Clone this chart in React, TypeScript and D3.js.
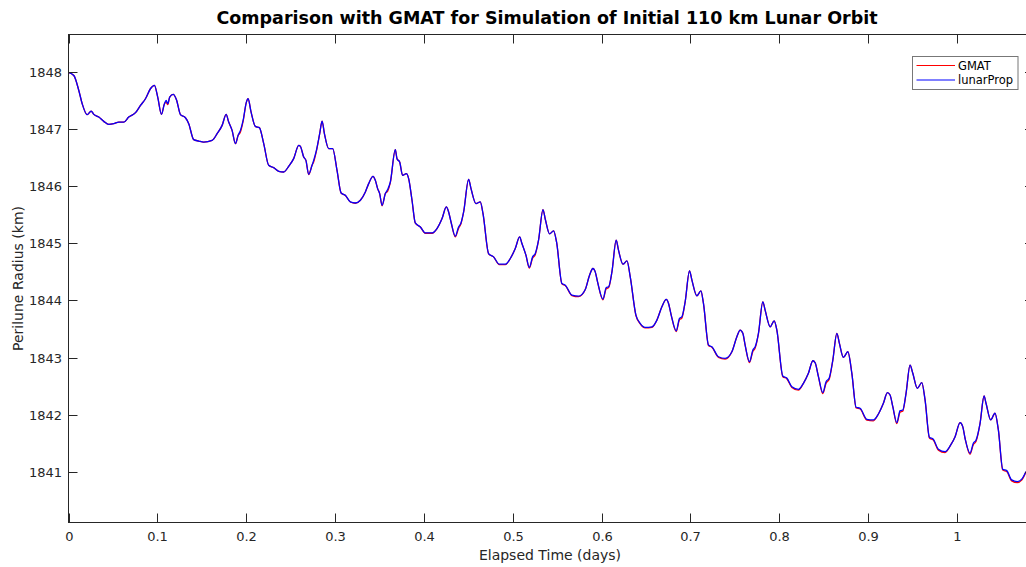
import React from "react";
import * as d3 from "d3";

const elapsedDays: number[] = [
  0, 0.006, 0.0116, 0.0154, 0.021, 0.0255, 0.0285, 0.0341, 0.0397, 0.0453,
  0.051, 0.0566, 0.0622, 0.0678, 0.0754, 0.081, 0.0866, 0.0922, 0.0967, 0.1004,
  0.1046, 0.108, 0.1099, 0.1117, 0.1139, 0.1178, 0.1215, 0.126, 0.1316, 0.1353,
  0.1409, 0.1466, 0.1522, 0.1616, 0.1673, 0.1729, 0.1774, 0.1803, 0.1841, 0.1879,
  0.1909, 0.1935, 0.1965, 0.2002, 0.2021, 0.2055, 0.2103, 0.2148, 0.2197, 0.2253,
  0.2309, 0.2366, 0.2422, 0.2478, 0.2534, 0.2591, 0.261, 0.2647, 0.2672, 0.2703,
  0.2741, 0.2759, 0.279, 0.2827, 0.2854, 0.288, 0.2928, 0.2973, 0.3022, 0.3068,
  0.3116, 0.3172, 0.3228, 0.3285, 0.3341, 0.3378, 0.3427, 0.3453, 0.3479, 0.3502,
  0.3529, 0.3566, 0.3592, 0.3622, 0.3678, 0.3697, 0.3727, 0.376, 0.3802, 0.3828,
  0.3866, 0.3903, 0.396, 0.4016, 0.4091, 0.4147, 0.4204, 0.4252, 0.4278, 0.4305,
  0.4353, 0.439, 0.4417, 0.4447, 0.4503, 0.453, 0.4586, 0.4634, 0.4665, 0.4728,
  0.4784, 0.4848, 0.4916, 0.4972, 0.5028, 0.5077, 0.5103, 0.5148, 0.5186, 0.5223,
  0.5253, 0.529, 0.534, 0.5366, 0.5414, 0.5459, 0.5493, 0.5553, 0.5591, 0.5666,
  0.574, 0.5816, 0.5864, 0.5902, 0.5928, 0.5954, 0.6015, 0.6052, 0.6078, 0.6116,
  0.6164, 0.619, 0.624, 0.6285, 0.6322, 0.6386, 0.6434, 0.649, 0.6566, 0.6622,
  0.6678, 0.6727, 0.6753, 0.6783, 0.6839, 0.6876, 0.6903, 0.694, 0.6989, 0.7016,
  0.7072, 0.7117, 0.7146, 0.7203, 0.7241, 0.7315, 0.739, 0.7466, 0.7522, 0.7559,
  0.7589, 0.7615, 0.7664, 0.7702, 0.7728, 0.7765, 0.7814, 0.784, 0.7897, 0.7942,
  0.7972, 0.8039, 0.8084, 0.8141, 0.8215, 0.8271, 0.8327, 0.8377, 0.8403, 0.844,
  0.8489, 0.8526, 0.856, 0.8602, 0.8647, 0.8676, 0.8721, 0.8771, 0.8816, 0.8864,
  0.8909, 0.8984, 0.9058, 0.9115, 0.9171, 0.9216, 0.9246, 0.9277, 0.9322, 0.9359,
  0.9389, 0.9426, 0.9471, 0.9502, 0.9553, 0.9603, 0.964, 0.9689, 0.9733, 0.979,
  0.9865, 0.9929, 0.9978, 1.0034, 1.0064, 1.009, 1.0146, 1.0183, 1.0214, 1.0259,
  1.0304, 1.0326, 1.0379, 1.0427, 1.0465, 1.0514, 1.0559, 1.0615, 1.0678, 1.0728,
  1.0776,
];

const lunarPropKm: number[] = [
  1847.99, 1847.935, 1847.673, 1847.441, 1847.249, 1847.312, 1847.254, 1847.207, 1847.132, 1847.079,
  1847.092, 1847.12, 1847.12, 1847.207, 1847.284, 1847.411, 1847.528, 1847.703, 1847.761, 1847.556,
  1847.254, 1847.441, 1847.499, 1847.441, 1847.556, 1847.603, 1847.511, 1847.249, 1847.196, 1847.092,
  1846.812, 1846.788, 1846.77, 1846.8, 1846.917, 1847.062, 1847.254, 1847.12, 1846.975, 1846.742,
  1846.887, 1846.975, 1847.149, 1847.469, 1847.528, 1847.294, 1847.044, 1847.022, 1846.742, 1846.363,
  1846.323, 1846.258, 1846.246, 1846.346, 1846.48, 1846.712, 1846.695, 1846.508, 1846.45, 1846.206,
  1846.363, 1846.45, 1846.625, 1846.917, 1847.137, 1846.917, 1846.655, 1846.655, 1846.276, 1845.879,
  1845.839, 1845.722, 1845.704, 1845.752, 1845.897, 1846.043, 1846.171, 1846.101, 1845.956, 1845.869,
  1845.664, 1845.869, 1845.939, 1846.071, 1846.637, 1846.48, 1846.421, 1846.188, 1846.218, 1846.131,
  1845.752, 1845.355, 1845.285, 1845.18, 1845.18, 1845.257, 1845.432, 1845.635, 1845.547, 1845.372,
  1845.123, 1845.285, 1845.355, 1845.547, 1846.118, 1845.956, 1845.694, 1845.722, 1845.519, 1844.82,
  1844.761, 1844.633, 1844.633, 1844.733, 1844.908, 1845.11, 1844.995, 1844.791, 1844.576, 1844.761,
  1844.82, 1845.053, 1845.589, 1845.42, 1845.163, 1845.215, 1845.018, 1844.296, 1844.267, 1844.092,
  1844.074, 1844.191, 1844.441, 1844.558, 1844.499, 1844.324, 1844.022, 1844.226, 1844.237, 1844.499,
  1845.053, 1844.878, 1844.633, 1844.691, 1844.412, 1843.743, 1843.598, 1843.528, 1843.538, 1843.655,
  1843.888, 1844.017, 1843.947, 1843.743, 1843.468, 1843.685, 1843.713, 1843.975, 1844.516, 1844.354,
  1844.08, 1844.167, 1843.947, 1843.218, 1843.189, 1843.014, 1842.986, 1843.101, 1843.363, 1843.48,
  1843.423, 1843.218, 1842.927, 1843.131, 1843.189, 1843.423, 1843.975, 1843.83, 1843.538, 1843.643,
  1843.48, 1842.677, 1842.642, 1842.49, 1842.444, 1842.549, 1842.724, 1842.944, 1842.909, 1842.665,
  1842.385, 1842.577, 1842.637, 1842.956, 1843.423, 1843.248, 1843.003, 1843.101, 1842.724, 1842.13,
  1842.113, 1841.92, 1841.908, 1842.013, 1842.2, 1842.385, 1842.345, 1842.14, 1841.861, 1842.071,
  1842.083, 1842.374, 1842.869, 1842.724, 1842.462, 1842.56, 1842.258, 1841.606, 1841.571, 1841.396,
  1841.354, 1841.471, 1841.616, 1841.861, 1841.791, 1841.588, 1841.326, 1841.501, 1841.559, 1841.85,
  1842.327, 1842.2, 1841.908, 1842.025, 1841.733, 1841.047, 1841.022, 1840.86, 1840.83, 1840.872,
  1841.005,
];

const gmatKm: number[] = [
  1847.99, 1847.935, 1847.673, 1847.441, 1847.249, 1847.312, 1847.254, 1847.207, 1847.132, 1847.079,
  1847.092, 1847.12, 1847.12, 1847.207, 1847.284, 1847.411, 1847.528, 1847.703, 1847.761, 1847.556,
  1847.254, 1847.441, 1847.465, 1847.425, 1847.556, 1847.603, 1847.511, 1847.249, 1847.196, 1847.092,
  1846.812, 1846.788, 1846.77, 1846.8, 1846.917, 1847.062, 1847.254, 1847.12, 1846.975, 1846.742,
  1846.887, 1846.945, 1847.13, 1847.469, 1847.528, 1847.294, 1847.044, 1847.022, 1846.742, 1846.363,
  1846.323, 1846.258, 1846.246, 1846.346, 1846.48, 1846.712, 1846.695, 1846.508, 1846.45, 1846.2,
  1846.363, 1846.42, 1846.61, 1846.917, 1847.137, 1846.917, 1846.655, 1846.655, 1846.276, 1845.879,
  1845.835, 1845.722, 1845.7, 1845.752, 1845.897, 1846.043, 1846.171, 1846.101, 1845.956, 1845.869,
  1845.655, 1845.869, 1845.91, 1846.06, 1846.637, 1846.48, 1846.421, 1846.188, 1846.218, 1846.131,
  1845.752, 1845.35, 1845.285, 1845.175, 1845.175, 1845.257, 1845.432, 1845.635, 1845.547, 1845.372,
  1845.11, 1845.26, 1845.34, 1845.547, 1846.118, 1845.956, 1845.694, 1845.722, 1845.519, 1844.815,
  1844.761, 1844.625, 1844.625, 1844.733, 1844.908, 1845.11, 1844.995, 1844.791, 1844.565, 1844.74,
  1844.8, 1845.053, 1845.589, 1845.42, 1845.163, 1845.215, 1845.018, 1844.29, 1844.26, 1844.085,
  1844.065, 1844.191, 1844.441, 1844.558, 1844.499, 1844.324, 1844.01, 1844.205, 1844.22, 1844.499,
  1845.053, 1844.878, 1844.633, 1844.691, 1844.412, 1843.735, 1843.59, 1843.518, 1843.528, 1843.655,
  1843.888, 1844.017, 1843.947, 1843.743, 1843.455, 1843.66, 1843.69, 1843.975, 1844.516, 1844.354,
  1844.08, 1844.167, 1843.947, 1843.21, 1843.18, 1843.004, 1842.974, 1843.101, 1843.363, 1843.48,
  1843.423, 1843.218, 1842.912, 1843.105, 1843.165, 1843.423, 1843.975, 1843.83, 1843.538, 1843.643,
  1843.48, 1842.665, 1842.63, 1842.478, 1842.43, 1842.549, 1842.724, 1842.944, 1842.909, 1842.665,
  1842.37, 1842.55, 1842.615, 1842.956, 1843.423, 1843.248, 1843.003, 1843.101, 1842.724, 1842.118,
  1842.1, 1841.905, 1841.892, 1842.013, 1842.2, 1842.385, 1842.345, 1842.14, 1841.845, 1842.045,
  1842.06, 1842.374, 1842.869, 1842.724, 1842.462, 1842.56, 1842.258, 1841.592, 1841.555, 1841.38,
  1841.338, 1841.471, 1841.616, 1841.861, 1841.791, 1841.588, 1841.308, 1841.475, 1841.535, 1841.85,
  1842.327, 1842.2, 1841.908, 1842.025, 1841.733, 1841.032, 1841.005, 1840.843, 1840.812, 1840.855,
  1841.0,
];

const xTickValues: number[] = [0, 0.1, 0.2, 0.3, 0.4, 0.5, 0.6, 0.7, 0.8, 0.9, 1];
const yTickValues: number[] = [1841, 1842, 1843, 1844, 1845, 1846, 1847, 1848];
const seriesNames: string[] = ["GMAT", "lunarProp"];
const seriesColors: string[] = ["#ff0000", "#0000ff"];

const W = 1026;
const H = 567;
const left = 68.5;
const right = 1034;
const top = 34.5;
const bottom = 522.5;
const FONT = "'DejaVu Sans', sans-serif";
const AXIS = "#262626";

export default function App() {
  const x = d3.scaleLinear().domain([0, 1.0866]).range([left, right]);
  const y = d3.scaleLinear().domain([1840.114, 1848.652]).range([bottom, top]);

  const mk = (vals: number[]) =>
    d3
      .line<number>()
      .x((_, i) => x(elapsedDays[i]))
      .y((d) => y(d))
      .curve(d3.curveMonotoneX)(vals.slice(0, elapsedDays.length)) || "";

  const series = [gmatKm, lunarPropKm];
  const tickLen = 9;

  return (
    <svg
      width={W}
      height={H}
      style={{ position: "absolute", left: 0, top: 0, background: "#fff" }}
      fontFamily={FONT}
    >
      <rect x={0} y={0} width={W} height={H} fill="#fff" />
      <defs>
        <clipPath id="plotClip">
          <rect x={left} y={top} width={right - left} height={bottom - top} />
        </clipPath>
      </defs>
      <g clipPath="url(#plotClip)">
        {series.map((s, i) => (
          <path key={i} d={mk(s)} fill="none" stroke={seriesColors[i]} strokeWidth={1.3} strokeLinejoin="round" />
        ))}
      </g>
      <rect x={left} y={top} width={right - left} height={bottom - top} fill="none" stroke={AXIS} strokeWidth={1} />
      {xTickValues.map((t) => {
        const px = Math.round(x(t)) + 0.5;
        return (
          <g key={"x" + t}>
            <line x1={px} x2={px} y1={bottom} y2={bottom - tickLen} stroke={AXIS} />
            <line x1={px} x2={px} y1={top} y2={top + tickLen} stroke={AXIS} />
            <text x={px} y={541} textAnchor="middle" fontSize={13} fill={AXIS}>
              {d3.format("~g")(t)}
            </text>
          </g>
        );
      })}
      {yTickValues.map((t) => {
        const py = Math.round(y(t)) + 0.5;
        return (
          <g key={"y" + t}>
            <line x1={left} x2={left + tickLen} y1={py} y2={py} stroke={AXIS} />
            <line x1={right} x2={right - tickLen} y1={py} y2={py} stroke={AXIS} />
            <text x={62} y={py} dy="0.35em" textAnchor="end" fontSize={13} fill={AXIS}>
              {t}
            </text>
          </g>
        );
      })}
      <text x={547} y={23.5} textAnchor="middle" fontSize={17.5} fontWeight="bold" fill="#000">
        Comparison with GMAT for Simulation of Initial 110 km Lunar Orbit
      </text>
      <text x={550} y={560} textAnchor="middle" fontSize={14} fill={AXIS}>
        Elapsed Time (days)
      </text>
      <text
        transform={`translate(22.5,${(top + bottom) / 2}) rotate(-90)`}
        textAnchor="middle"
        fontSize={14}
        fill={AXIS}
      >
        Perilune Radius (km)
      </text>
      <g>
        <rect x={912.5} y={56.5} width={105.5} height={33} fill="#fff" stroke="#777" strokeWidth={1} />
        {seriesNames.map((n, i) => (
          <g key={n}>
            <line x1={916.5} x2={955} y1={65.5 + i * 14.5} y2={65.5 + i * 14.5} stroke={seriesColors[i]} strokeWidth={1} />
            <text x={958} y={65.5 + i * 14.5} dy="0.36em" fontSize={11.5} fill="#000">
              {n}
            </text>
          </g>
        ))}
      </g>
    </svg>
  );
}
